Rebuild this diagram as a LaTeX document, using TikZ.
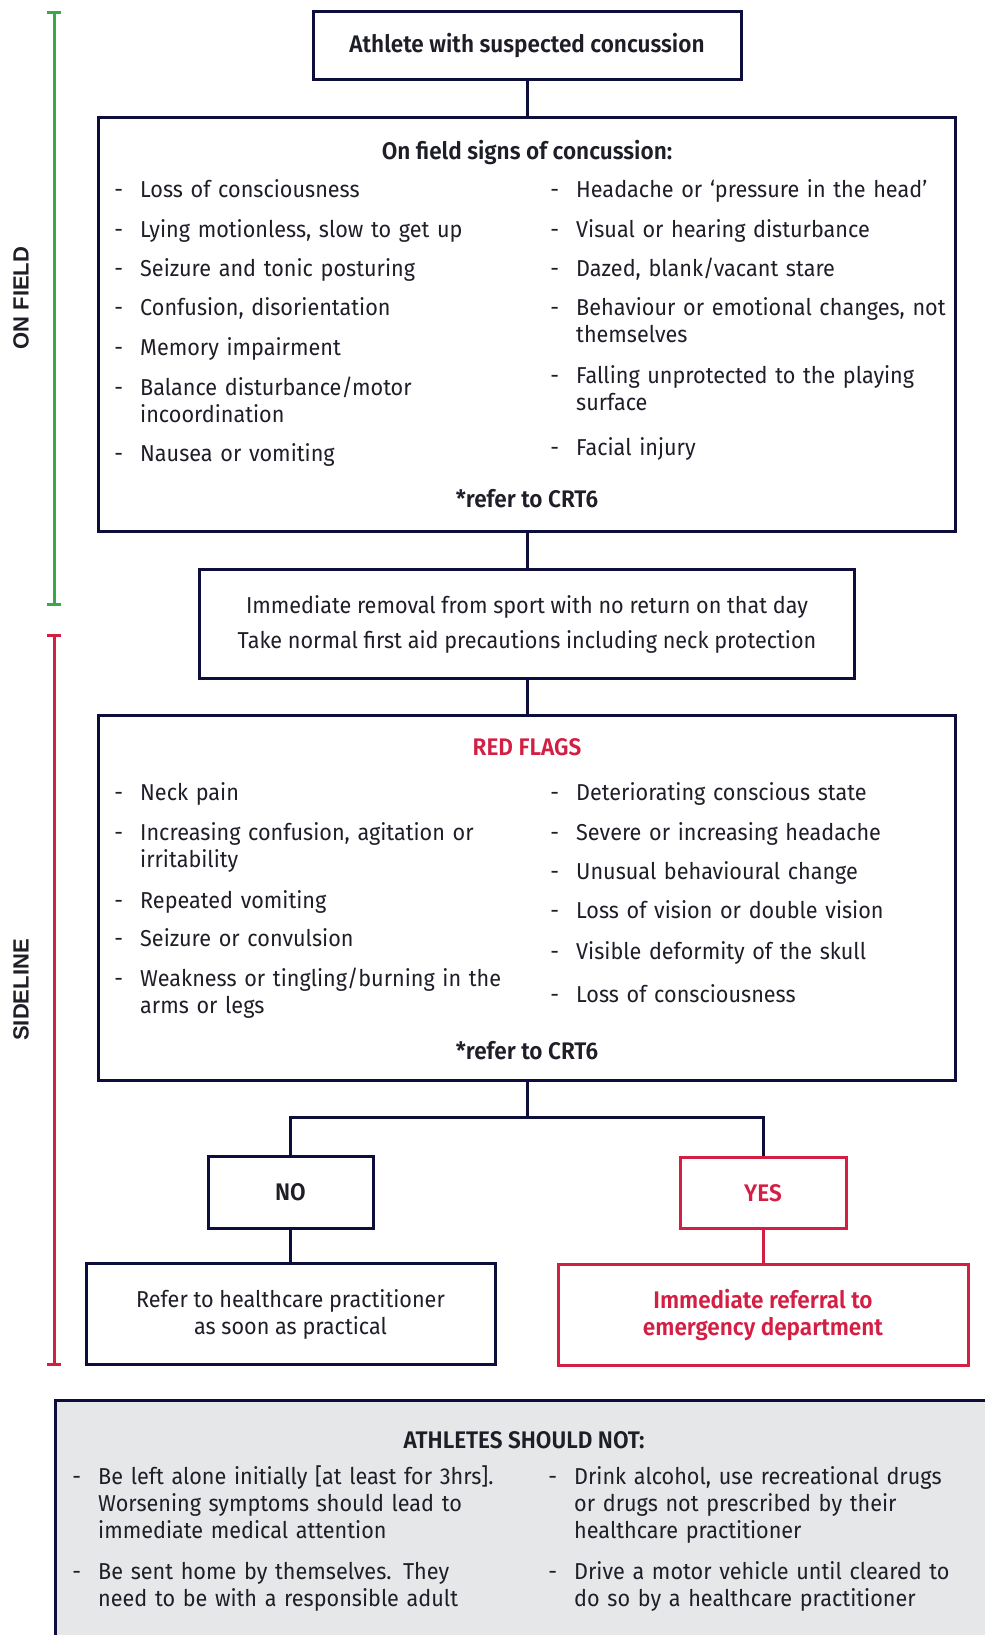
\documentclass[tikz,border=0pt]{standalone}
\usepackage{fontspec}
\setmainfont{Fira Sans}[FakeStretch=0.94, BoldFont={Fira Sans SemiBold}]
\newfontfamily\sidefont{Liberation Sans}
\usetikzlibrary{arrows.meta}

\definecolor{navy}{HTML}{0E0E3C}
\definecolor{flagred}{HTML}{D41F45}
\definecolor{fieldgreen}{HTML}{3BA74A}
\definecolor{panelgrey}{HTML}{E6E7E8}
\definecolor{ink}{HTML}{1E1E28}

\newcommand{\bodyfont}{\fontsize{23}{27}\selectfont}
\newcommand{\headfont}{\fontsize{24}{27}\selectfont\bfseries}
\newcommand{\dashitem}{\leavevmode\llap{-\hspace{17pt}}}

\tikzset{
  box/.style={draw=navy, line width=3pt, inner sep=0pt, align=center, font=\bodyfont},
  redbox/.style={box, draw=flagred, text=flagred},
  item/.style={anchor=base west, inner sep=0pt, text width=440pt, align=left, font=\bodyfont, execute at begin node=\dashitem},
  head/.style={anchor=base, inner sep=0pt, font=\headfont},
  link/.style={draw=navy, line width=3pt},
  bracket/.style={line width=3pt, {Bar[width=14pt]}-{Bar[width=14pt]}},
  side/.style={rotate=90, inner sep=0pt, font=\sidefont\bfseries\fontsize{22}{26}\selectfont}
}

\begin{document}
\begin{tikzpicture}[x=1pt, y=-1pt, every node/.append style={text=ink}]
\useasboundingbox (0,0) rectangle (985,1635);

% phase brackets
\draw[bracket, fieldgreen] (54,11) -- (54,606);
\draw[bracket, flagred] (54,634) -- (54,1366);
\node[side] (onfield) at (21,298) {ON FIELD};
\node[side] (sideline) at (21,990) {SIDELINE};

\node[box, minimum width=428, minimum height=68, font=\headfont] (start) at (527,45.5) {Athlete with suspected concussion};

% on field signs
\node[box, minimum width=857, minimum height=414] (signs) at (527,324.5) {};
\node[head] (signsTitle) at (527,160) {On field signs of concussion:};
\node[item] (sl1) at (140,197) {Loss of consciousness};
\node[item] (sl2) at (140,237) {Lying motionless, slow to get up};
\node[item] (sl3) at (140,276) {Seizure and tonic posturing};
\node[item] (sl4) at (140,315) {Confusion, disorientation};
\node[item] (sl5) at (140,355) {Memory impairment};
\node[item] (sl6) at (140,395) {Balance disturbance/motor\\incoordination};
\node[item] (sl7) at (140,461) {Nausea or vomiting};
\node[item] (sr1) at (576,197) {Headache or ‘pressure in the head’};
\node[item] (sr2) at (576,237) {Visual or hearing disturbance};
\node[item] (sr3) at (576,276) {Dazed, blank/vacant stare};
\node[item] (sr4) at (576,315) {Behaviour or emotional changes, not\\themselves};
\node[item] (sr5) at (576,383) {Falling unprotected to the playing\\surface};
\node[item] (sr6) at (576,455) {Facial injury};
\node[head] (signsRef) at (527,507) {*refer to CRT6};

\node[box, minimum width=655, minimum height=109] (removal) at (527,624) {Immediate removal from sport with no return on that day\\[8pt]Take normal first aid precautions including neck protection};

% red flags
\node[box, minimum width=857, minimum height=365] (flags) at (527,898) {};
\node[head, text=flagred] (flagsTitle) at (527,755) {RED FLAGS};
\node[item] (fl1) at (140,800) {Neck pain};
\node[item] (fl2) at (140,840) {Increasing confusion, agitation or\\irritability};
\node[item] (fl3) at (140,908) {Repeated vomiting};
\node[item] (fl4) at (140,946) {Seizure or convulsion};
\node[item] (fl5) at (140,986) {Weakness or tingling/burning in the\\arms or legs};
\node[item] (fr1) at (576,800) {Deteriorating conscious state};
\node[item] (fr2) at (576,840) {Severe or increasing headache};
\node[item] (fr3) at (576,879) {Unusual behavioural change};
\node[item] (fr4) at (576,918) {Loss of vision or double vision};
\node[item] (fr5) at (576,959) {Visible deformity of the skull};
\node[item] (fr6) at (576,1002) {Loss of consciousness};
\node[head] (flagsRef) at (527,1059) {*refer to CRT6};

% outcome
\node[box, minimum width=165, minimum height=72, font=\headfont] (no) at (290.5,1192.5) {NO};
\node[redbox, minimum width=166, minimum height=71, font=\headfont] (yes) at (763,1193) {YES};
\node[box, minimum width=409, minimum height=101] (refer) at (290.5,1314) {Refer to healthcare practitioner\\as soon as practical};
\node[redbox, minimum width=410, minimum height=101, font=\headfont] (emerg) at (763,1315) {Immediate referral to\\emergency department};

\coordinate (split) at (527,1117);
\draw[link] (start) -- (signs);
\draw[link] (signs) -- (removal);
\draw[link] (removal) -- (flags);
\draw[link] (flags.south) -- (split);
\draw[link] (no.north) |- (split) -| (yes.north);
\draw[link] (no) -- (refer);
\draw[link, draw=flagred] (yes) -- (emerg);

% athletes should not
\fill[panelgrey] (55,1400) rectangle (985,1635);
\draw[link] (985,1400) -- (55,1400) -- (55,1635);
\node[head] (notTitle) at (524,1448) {ATHLETES SHOULD NOT:};
\node[item] (nl1) at (98,1484) {Be left alone initially [at least for 3hrs].\\Worsening symptoms should lead to\\immediate medical attention};
\node[item] (nl2) at (98,1579) {Be sent home by themselves. They\\need to be with a responsible adult};
\node[item] (nr1) at (574,1484) {Drink alcohol, use recreational drugs\\or drugs not prescribed by their\\healthcare practitioner};
\node[item] (nr2) at (574,1579) {Drive a motor vehicle until cleared to\\do so by a healthcare practitioner};
\end{tikzpicture}
\end{document}
